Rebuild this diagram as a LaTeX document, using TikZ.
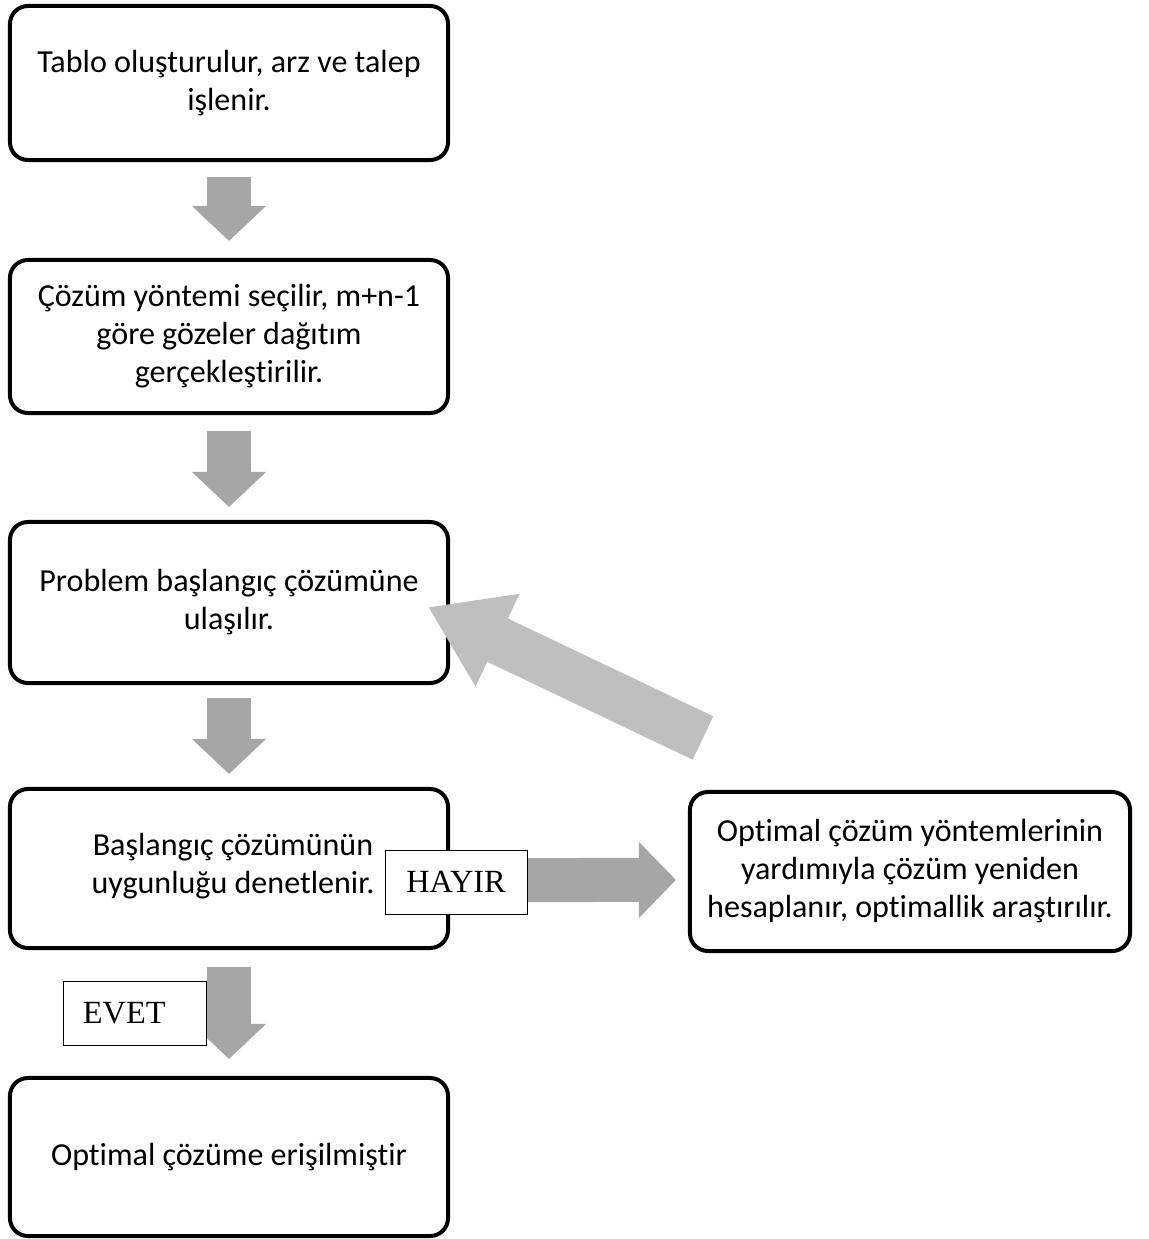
\documentclass[tikz,border=0pt]{standalone}
\usepackage{fontspec}
\setmainfont{Carlito}[RawFeature={-liga;-clig;-calt;-dlig}]
\newfontfamily\timesyazi{Liberation Serif}
\usepackage{xcolor}
\usepackage{tikz}
\usetikzlibrary{arrows.meta, positioning}

\definecolor{okkoyu}{HTML}{A6A6A6}
\definecolor{okacik}{HTML}{BFBFBF}

\begin{document}
\begin{tikzpicture}[x=0.025cm, y=-0.025cm,
    kutu/.style={draw, line width=0.1cm, rounded corners=0.45cm, fill=white,
        minimum width=10.95cm, align=center, inner sep=0pt,
        font=\fontsize{22.8}{27}\selectfont},
    etiket/.style={draw, line width=0.6pt, fill=white, inner sep=0pt,
        minimum height=1.6cm, font=\timesyazi\fontsize{23}{27}\selectfont},
    asagi/.style={okkoyu, line width=1.075cm,
        -{Triangle[length=0.875cm, width=1.8cm]}},
]
    \useasboundingbox (0,0) rectangle (1149,1239);

    % Kutular
    \node[kutu, minimum height=3.85cm] (b1) at (229,83) {Tablo oluşturulur, arz ve talep\\işlenir.};
    \node[kutu, minimum height=3.825cm] (b2) at (229,336.5) {Çözüm yöntemi seçilir, m+n-1\\göre gözeler dağıtım\\gerçekleştirilir.};
    \node[kutu, minimum height=4.025cm] (b3) at (229,602.5) {Problem başlangıç çözümüne\\ulaşılır.};
    \node[kutu, minimum height=3.975cm] (b4) at (229,868.5) {};
    \node[align=center, font=\fontsize{22.8}{27}\selectfont] (b4yazi) at (233,866) {Başlangıç çözümünün\\uygunluğu denetlenir.};
    \node[kutu, minimum height=3.95cm] (b5) at (229,1157) {Optimal çözüme erişilmiştir};
    \node[kutu, minimum width=11cm, minimum height=3.975cm] (b6) at (910,871.5) {Optimal çözüm yöntemlerinin\\yardımıyla çözüm yeniden\\hesaplanır, optimallik araştırılır.};

    % Aşağı oklar
    \draw[asagi, shorten <=0.375cm, shorten >=0.425cm] (b1) -- (b2);
    \draw[asagi, shorten <=0.4cm, shorten >=0.325cm] (b2) -- (b3);
    \draw[asagi, shorten <=0.325cm, shorten >=0.325cm] (b3) -- (b4);
    \draw[asagi, shorten <=0.425cm, shorten >=0.425cm] (b4) -- (b5);

    % HAYIR oku
    \draw[okkoyu, line width=1.1cm, shorten >=0.3cm,
        -{Triangle[length=0.925cm, width=1.85cm]}]
        ([yshift=-0.29cm]b4.east) -- ([yshift=-0.21cm]b6.west);

    % Geri dönüş oku
    \coordinate (geri1) at (703,738);
    \coordinate (geri2) at (428,607);
    \draw[okacik, line width=1.2cm, -{Triangle[length=1.925cm, width=2.425cm]}] (geri1) -- (geri2);

    % Etiketler
    \node[etiket, minimum width=3.55cm] (hayir) at (456,882) {HAYIR};
    \node[etiket, minimum width=3.575cm, text width=2.575cm, inner xsep=0.5cm, align=left] (evet) at (134.5,1013.5) {EVET};
\end{tikzpicture}
\end{document}
